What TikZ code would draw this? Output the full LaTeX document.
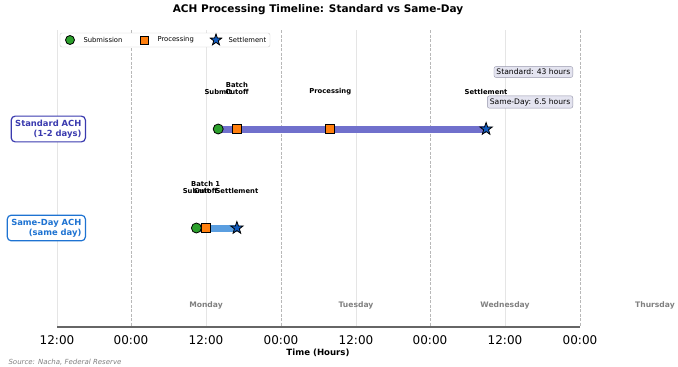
\documentclass[tikz,border=0pt]{standalone}
\usepackage{fontspec}
\setmainfont{DejaVu Sans}
\usetikzlibrary{shapes.geometric}
\definecolor{stdblue}{RGB}{58,58,175}
\definecolor{sdblue}{RGB}{30,115,210}
\definecolor{stdbar}{RGB}{112,112,204}
\definecolor{sdbar}{RGB}{90,158,224}
\definecolor{subgreen}{RGB}{44,160,44}
\definecolor{procorange}{RGB}{255,127,14}
\definecolor{setblue}{RGB}{16,90,190}
\definecolor{infofill}{RGB}{228,228,240}
\definecolor{infoedge}{RGB}{150,150,170}
\begin{document}
\begin{tikzpicture}[x=1pt, y=-1pt,
	sub/.style = {draw, thick, circle, fill=subgreen, inner sep=0pt, minimum size=10pt},
	proc/.style = {draw, thick, rectangle, fill=procorange, inner sep=0pt, minimum size=9pt},
	settle/.style = {draw, thick, star, star points=5, star point ratio=2.5, fill=setblue, inner sep=0pt, minimum size=13pt},
	tag/.style = {font=\bfseries\fontsize{6.8}{7.6}\selectfont, align=center, anchor=south, inner sep=0pt},
	rowlabel/.style = {draw, very thick, rounded corners=4pt, fill=white, align=right, font=\bfseries\fontsize{8.4}{9.6}\selectfont, inner sep=4pt},
	info/.style = {draw=infoedge, fill=infofill, rounded corners=2pt, font=\fontsize{7.6}{8.5}\selectfont, inner sep=2.5pt, anchor=east},
	day/.style = {font=\bfseries\fontsize{7.6}{8}\selectfont, text=gray},
	legtext/.style = {anchor=west, font=\fontsize{6.8}{7.5}\selectfont},
	tick/.style = {font=\fontsize{12}{13}\selectfont}]
	\useasboundingbox (0,0) rectangle (678,367);
	% grid
	\foreach \x in {57,206,356,505} \draw[black!10, line width=0.6pt] (\x,30) -- (\x,327);
	\foreach \x in {131,281,430,580} \draw[black!28, dash pattern=on 3pt off 1.5pt, line width=0.5pt] (\x,30) -- (\x,327);
	% axis
	\draw[black!60, line width=2pt] (57,327) -- (580,327);
	\foreach \x/\t in {57/12:00,131/00:00,206/12:00,281/00:00,356/12:00,430/00:00,505/12:00,580/00:00}
		\node[tick] at (\x,340) {\t};
	\foreach \x/\d in {206/Monday,356/Tuesday,505/Wednesday,655/Thursday}
		\node[day] at (\x,305) {\d};
	\node[font=\bfseries\fontsize{10.5}{12}\selectfont] (title) at (318,10) {ACH Processing Timeline: Standard vs Same-Day};
	\node[font=\bfseries\fontsize{8.6}{9.5}\selectfont] (xlabel) at (318,353) {Time (Hours)};
	\node[font=\itshape\fontsize{7}{8}\selectfont, text=gray, anchor=west] (source) at (5,362) {Source: Nacha, Federal Reserve};
	% legend
	\draw[black!20, fill=white, rounded corners=2pt] (60,33) rectangle (270,47);
	\node[sub, minimum size=9pt] (l1) at (70,40) {};
	\node[legtext] at (80,40) {Submission};
	\node[proc, minimum size=8pt] (l2) at (144,40) {};
	\node[legtext] at (154,40) {Processing};
	\node[settle, minimum size=12pt] (l3) at (216,40) {};
	\node[legtext] at (225,40) {Settlement};
	% standard ACH row
	\coordinate (s1) at (218.2,129);
	\coordinate (s2) at (236.9,129);
	\coordinate (s3) at (330.3,129);
	\coordinate (s4) at (486.1,129);
	\draw[stdbar, line width=7pt] (s1) -- (s4);
	\node[sub] at (s1) {};
	\node[proc] at (s2) {};
	\node[proc] at (s3) {};
	\node[settle] at (s4) {};
	\node[tag] at (218.2,95) {Submit};
	\node[tag] at (236.9,95) {Batch\\Cutoff};
	\node[tag] at (330.3,95) {Processing};
	\node[tag] at (486.1,95) {Settlement};
	\node[rowlabel, draw=stdblue, text=stdblue, anchor=east] (std) at (86,129) {Standard ACH\\(1-2 days)};
	% same-day ACH row
	\coordinate (d1) at (196.4,228);
	\coordinate (d2) at (205.7,228);
	\coordinate (d3) at (236.9,228);
	\draw[sdbar, line width=7pt] (d1) -- (d3);
	\node[sub] at (d1) {};
	\node[proc] at (d2) {};
	\node[settle] at (d3) {};
	\node[tag] at (196.4,194) {Submit};
	\node[tag] at (205.7,194) {Batch 1\\Cutoff};
	\node[tag] at (236.9,194) {Settlement};
	\node[rowlabel, draw=sdblue, text=sdblue, anchor=east] (sd) at (86,228) {Same-Day ACH\\(same day)};
	% totals
	\node[info] (i1) at (573,72) {Standard: 43 hours};
	\node[info] (i2) at (573,102) {Same-Day: 6.5 hours};
\end{tikzpicture}
\end{document}
